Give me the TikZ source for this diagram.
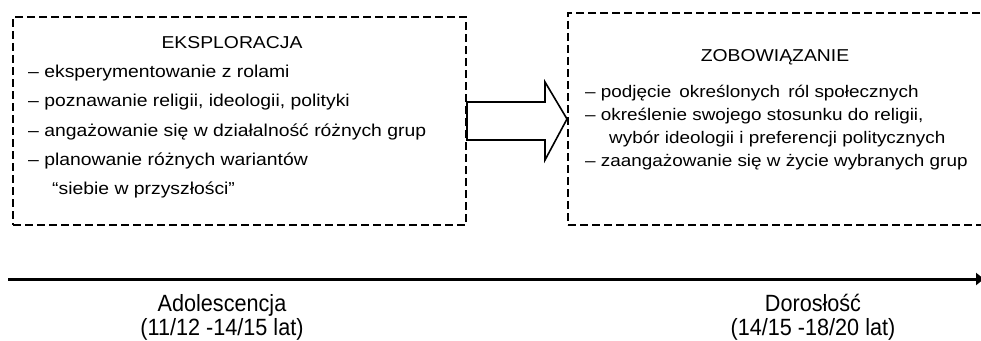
\documentclass[tikz,border=0pt]{standalone}
\usepackage{fontspec}
\setmainfont{Liberation Sans}
\newfontfamily\boxfont[FakeStretch=1.125]{Liberation Sans}
\newfontfamily\agefont[FakeStretch=0.92]{Liberation Sans}
\usetikzlibrary{arrows.meta, positioning, calc}

\begin{document}
\begin{tikzpicture}[x=1pt, y=-1pt, dashbox/.style={draw, line width=2pt,
      dash pattern=on 8pt off 4pt, anchor=north west, inner sep=0pt},
      boxhead/.style={font=\boxfont\fontsize{17.2pt}{20pt}\selectfont,
      anchor=base, inner sep=0pt}, boxlist/.style={align=left,
      anchor=base west, inner sep=0pt}, blockarrow/.style={line width=1.6pt,
      fill=white, line join=miter}, agelabel/.style={align=center,
      anchor=base, inner sep=0pt,
      font=\agefont\fontsize{23.5pt}{24pt}\selectfont} ]

    \useasboundingbox (0,0) rectangle (981,340);
    \clip (0,0) rectangle (981,340);

    % Dashed boxes
    \node[dashbox, minimum width=453pt, minimum height=208pt] (expl) at
    (12,16) {}; \node[dashbox, minimum width=430pt, minimum height=212pt]
    (zobo) at (567,12) {};

    % Headings
    \node[boxhead] (explhead) at (232,48) {EKSPLORACJA};
    \node[boxhead] (zobohead) at (775,61) {ZOBOWIĄZANIE};

    % Lists inside boxes (base = last line)
    \node[boxlist, font=\boxfont\fontsize{17.2pt}{29.6pt}\selectfont]
    (expllist) at (28,194) {– eksperymentowanie z rolami\\ – poznawanie
    religii, ideologii, polityki\\ – angażowanie się w działalność różnych
    grup\\ – planowanie różnych wariantów\\[-1.4pt] \hspace*{24pt}“siebie w
    przyszłości”};
    \node[boxlist, font=\boxfont\fontsize{16.8pt}{23pt}\selectfont]
    (zobolist) at (585,166.5) {– podjęcie \,określonych \,ról społecznych\\ –
    określenie swojego stosunku do religii,\\ \hspace*{24pt}wybór ideologii
    i preferencji politycznych\\ – zaangażowanie się w życie wybranych grup};

    % Block arrow between boxes
    \draw[blockarrow] ($(expl.east)+(0,-19)$) -- ++(78,0) -- ++(0,-20) --
    (zobo.west) -- ($(expl.east)+(78,39)$) -- ++(0,-20) --
    ($(expl.east)+(0,19)$) -- cycle;

    % Time axis
    \coordinate (axisstart) at (8,279); \coordinate (axisend) at (984,279);
    \draw[line width=3pt, -{Triangle[length=8pt, width=12pt]}] (axisstart)
    -- (axisend);

    % Stage labels under the axis
    \node[agelabel] (adol) at (222,335) {Adolescencja\\(11/12 -14/15 lat)};
    \node[agelabel] (dor) at (813,335) {Dorosłość\\(14/15 -18/20 lat)};

\end{tikzpicture}
\end{document}
